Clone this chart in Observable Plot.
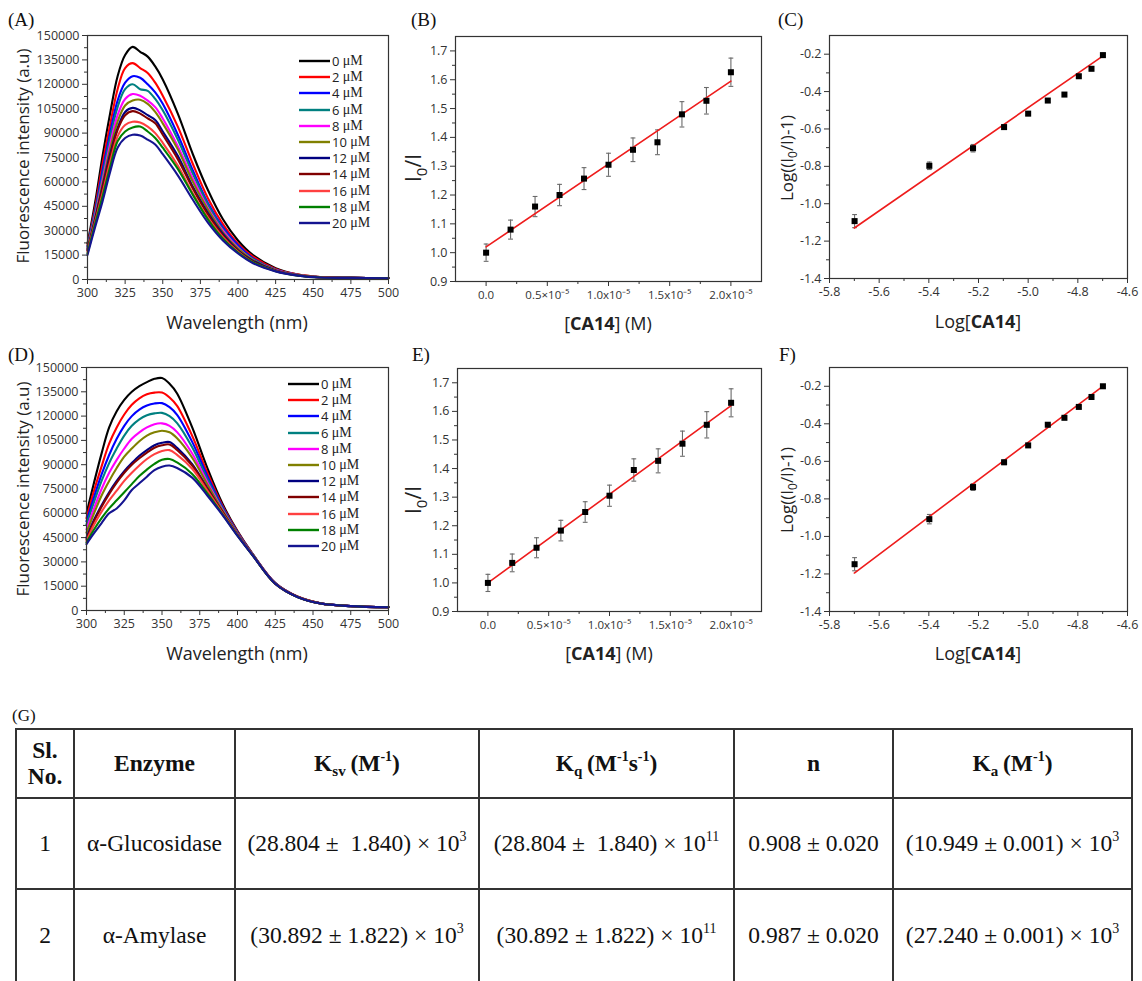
<!DOCTYPE html>
<html><head><meta charset="utf-8">
<script src="https://cdn.jsdelivr.net/npm/d3@7"></script>
<script src="https://cdn.jsdelivr.net/npm/@observablehq/plot@0.6"></script>
<style>
body{margin:0;background:#fff;width:1142px;height:981px;position:relative;overflow:hidden;font-family:"Open Sans",sans-serif;color:#222;}
.panel{position:absolute;}
.plab{position:absolute;font-family:"Liberation Serif",serif;font-size:19px;color:#111;line-height:1;}
.ytitle{position:absolute;transform:translate(-50%,-50%) rotate(-90deg);white-space:nowrap;color:#222;font-size:17px;}
.xtitle{position:absolute;transform:translate(-50%,-50%);white-space:nowrap;color:#222;font-size:18px;}
.legend{position:absolute;}
.legend .row{height:16.2px;display:flex;align-items:center;}
.legend .row span.n{font-size:13px;color:#222;margin-left:2px;}
.legend .row span.u{font-family:"Liberation Serif",serif;font-size:14px;color:#222;}
table.g{position:absolute;left:15px;top:728px;border-collapse:collapse;font-family:"Liberation Serif",serif;font-size:23.5px;color:#111;table-layout:fixed;}
table.g td,table.g th{border:2px solid #333;text-align:center;vertical-align:middle;padding:0;white-space:nowrap;}
table.g th{font-weight:bold;line-height:1.1;}
table.g sup{font-size:14px;vertical-align:10px;line-height:0;}
table.g sub{font-size:15px;vertical-align:-5px;line-height:0;}
</style></head>
<body>
<script>
// ---------- data ----------
const concLabels = ["0","2","4","6","8","10","12","14","16","18","20"];
const lineColors = ["#000000","#ff0000","#0000ff","#008080","#ff00ff","#808000","#000080","#800000","#ff4040","#008000","#141490"];

// Panel A spectra (fluorescence intensity, thousands a.u.)
const wavelengthsA = [300,305,310,315,320,325,330,335,340,345,350,360,370,380,390,400,410,425,440,455,475,500];
const spectraA = [
 [22,47,76,102,125,138,143,140,137,131,123,102,77,55,37,24,15,7,3,1.5,1,0.8],
 [21,44,71,95,117,130,133,130,127,121,113,94,71,50,34,22,14,6.5,3,1.5,1,0.8],
 [20,42,67,90,110,121,125,124,120,115,108,89,67,47,32,21,13,6,2.8,1.4,1,0.8],
 [20,41,64,87,106,117,120,117,116,111,104,86,65,46,31,20,12.5,6,2.8,1.4,1,0.8],
 [19,39,61,83,101,111,114,113,110,106,99,82,62,44,30,19.5,12,5.8,2.7,1.4,1,0.8],
 [19,38,59,80,97,107,110,110.5,108,103,96,80,60,43,29,19,12,5.7,2.7,1.3,1,0.8],
 [18,37,57,77,93,103,105.5,104,101,98,91,76,57,41,28,18,11.5,5.5,2.6,1.3,1,0.8],
 [18,36,56,75,92,101,103.5,102,99,96,89,74,56,40,27,17.5,11,5.4,2.5,1.3,1,0.8],
 [17,35,53,72,88,95,97,96.5,94,90,84,70,53,38,26,17,10.5,5.2,2.5,1.3,1,0.8],
 [16,34,51,69,85,91,93.5,94,91,87,81,68,52,37,25,16.5,10.5,5.1,2.4,1.2,1,0.8],
 [15,32,48,66,81,87,89,88.5,86,83,77,64,49,35,24,16,10,5,2.4,1.2,1,0.8]
];

// Panel D spectra (thousands a.u.)
const wavelengthsD = [300,305,310,315,320,325,330,335,340,345,350,355,360,370,380,390,400,410,425,440,455,475,500];
const spectraD = [
 [60,79,97,113,123,130,135,138.5,141,143,143.5,140,134,113,88,66,49,35,17,8.5,4.5,2.8,2],
 [57,74,89,103,113,121,127,131,133.5,134.5,134.5,131.5,126.3,107.8,85.2,64.8,48.5,34.8,16.9,8.5,4.5,2.8,2],
 [55,70,84,96,106,114,120,124,126.5,127.8,128,125.5,120.8,104.1,83.1,64,48.1,34.7,16.9,8.4,4.4,2.8,2],
 [53,67,80,91,100,108,114,118,120.5,121.7,122,120,115.7,100.7,81.2,63.2,47.8,34.6,16.8,8.4,4.4,2.8,2],
 [50,63,75,85,93,100,106,110,113,115,115.5,114,110.1,96.9,79.2,62.4,47.4,34.5,16.7,8.4,4.4,2.7,2],
 [48,60,71,80,88,95,100,104.5,108,110,111,110,106.3,94.3,77.8,61.8,47.2,34.4,16.7,8.3,4.4,2.7,2],
 [45,56,65,73,80,86,91,95.5,99,102,103.5,104,100.4,90.3,75.6,60.9,46.8,34.3,16.6,8.3,4.4,2.7,2],
 [44,55,64,72,79,85,90,94,97.5,100.5,102,102.5,99.1,89.5,75.1,60.7,46.7,34.2,16.6,8.3,4.3,2.7,2],
 [43,53,61,68,74,80,85,89.5,93.5,96.5,98.5,99,96.1,87.5,74,60.2,46.5,34.2,16.6,8.3,4.3,2.7,2],
 [42,50,57,63,68,73,78,83,87,90.5,93,93.5,91.4,84.3,72.3,59.5,46.2,34.1,16.5,8.2,4.3,2.7,2],
 [41,47.7,54,60,63,68,74.4,78.5,82.6,86.7,88.8,89.5,88,82,71,59,46,34,16.5,8.2,4.3,2.7,2]
];

// Stern-Volmer (B, E)
const quencherM = [0,0.2e-5,0.4e-5,0.6e-5,0.8e-5,1.0e-5,1.2e-5,1.4e-5,1.6e-5,1.8e-5,2.0e-5];
const ratioB = [1.00,1.08,1.16,1.20,1.257,1.305,1.357,1.383,1.48,1.527,1.626];
const errB   = [0.03,0.033,0.035,0.037,0.038,0.04,0.041,0.043,0.044,0.046,0.049];
const ratioE = [1.00,1.07,1.123,1.183,1.248,1.305,1.395,1.427,1.487,1.553,1.63];
const errE   = [0.03,0.031,0.035,0.036,0.036,0.037,0.039,0.042,0.044,0.046,0.049];
const fitSVx = [0, 2.0e-5];
const fitBy = [1.02, 1.595];
const fitEy = [1.0, 1.62];
const svTickValues = [0, 0.5e-5, 1.0e-5, 1.5e-5, 2.0e-5];
const svTickLabels = ["0.0","0.5×10⁻⁵","1.0x10⁻⁵","1.5x10⁻⁵","2.0x10⁻⁵"];

// double log (C, F)
const logConc = [-5.699,-5.398,-5.222,-5.097,-5.0,-4.921,-4.854,-4.796,-4.745,-4.699];
const logC = [-1.093,-0.797,-0.703,-0.59,-0.518,-0.448,-0.416,-0.318,-0.278,-0.205];
const errC = [0.035,0.02,0.02,0.012,0.01,0.01,0.01,0.01,0.01,0.01];
const logF = [-1.148,-0.908,-0.737,-0.605,-0.515,-0.405,-0.368,-0.31,-0.257,-0.2];
const errF = [0.035,0.025,0.018,0.012,0.008,0.008,0.008,0.008,0.008,0.008];
const fitLogX = [-5.7, -4.7];
const fitCy = [-1.13, -0.21];
const fitFy = [-1.195, -0.2];

// table G
const tableHeader = ["Sl.<br>No.","Enzyme","K<sub>sv</sub>&#8201;(M<sup>-1</sup>)","K<sub>q</sub>&#8201;(M<sup>-1</sup>s<sup>-1</sup>)","n","K<sub>a</sub>&#8201;(M<sup>-1</sup>)"];
const tableSl = ["1","2"];
const tableEnzyme = ["α-Glucosidase","α-Amylase"];
const tableKsv = ["(28.804 ±&nbsp; 1.840) × 10<sup>3</sup>","(30.892 ± 1.822) × 10<sup>3</sup>"];
const tableKq = ["(28.804 ±&nbsp; 1.840) × 10<sup>11</sup>","(30.892 ± 1.822) × 10<sup>11</sup>"];
const tableN = ["0.908 ± 0.020","0.987 ± 0.020"];
const tableKa = ["(10.949 ± 0.001) × 10<sup>3</sup>","(27.240 ± 0.001) × 10<sup>3</sup>"];
const colWidths = [58,161,244,255,159,239];

// ---------- helpers ----------
const baseStyle = {fontFamily:"'Open Sans', sans-serif", fontSize:"12.5px", color:"#333", background:"transparent", overflow:"visible"};
const cap = {draw(ctx, size){ const w = Math.sqrt(size/Math.PI); ctx.moveTo(-w,0); ctx.lineTo(w,0); }};
const blank = () => "";

function place(node, left, top){
  const d = document.createElement("div");
  d.className = "panel"; d.style.left = left+"px"; d.style.top = top+"px";
  d.appendChild(node); document.body.appendChild(d);
}
function html(cls, left, top, inner){
  const d = document.createElement("div");
  d.className = cls; d.style.left = left+"px"; d.style.top = top+"px"; d.innerHTML = inner;
  document.body.appendChild(d); return d;
}

function spectrum(curves, wl, m){
  const rows = curves.flatMap((vals,i) => vals.map((v,j) => ({conc: concLabels[i], wl: wl[j], fi: v*1000})));
  return Plot.plot({
    width: 400, height: 340, marginLeft: m.left, marginRight: 400 - m.right, marginTop: m.top, marginBottom: 340 - m.bottom,
    style: baseStyle,
    x: {domain:[300,500]}, y: {domain:[0,150000]},
    color: {domain: concLabels, range: lineColors},
    marks: [
      Plot.axisX({ticks: d3.range(300,501,25), tickSize:5, tickPadding:4, tickFormat: d3.format("d"), label:null, stroke:"#333"}),
      Plot.axisX({ticks: d3.range(312.5,500,25), tickSize:3, tickFormat: blank, label:null, stroke:"#333"}),
      Plot.axisY({ticks: d3.range(0,150001,15000), tickSize:5, tickPadding:3, tickFormat: d3.format("d"), label:null, stroke:"#333"}),
      Plot.axisY({ticks: d3.range(7500,150000,15000), tickSize:3, tickFormat: blank, label:null, stroke:"#333"}),
      Plot.line(rows, {x:"wl", y:"fi", z:"conc", stroke:"conc", strokeWidth:2.1, curve:"catmull-rom"}),
      Plot.frame({stroke:"#333", strokeWidth:1.2})
    ]
  });
}

function errorPlot(xs, ys, es, fitX, fitY, cfg){
  const pts = xs.map((x,i) => ({x, y: ys[i], e: es[i]}));
  const fit = fitX.map((x,i) => ({x, y: fitY[i]}));
  return Plot.plot({
    width: cfg.width, height: 340, marginLeft: cfg.left, marginRight: cfg.width - cfg.right, marginTop: cfg.top, marginBottom: 340 - cfg.bottom,
    style: baseStyle,
    x: {domain: cfg.xdomain}, y: {domain: cfg.ydomain},
    marks: [
      Plot.axisX({ticks: cfg.xticks, tickSize:5, tickPadding:4, tickFormat: cfg.xfmt, label:null, stroke:"#333", fontSize: cfg.xfs}),
      Plot.axisX({ticks: cfg.xminor, tickSize:3, tickFormat: blank, label:null, stroke:"#333"}),
      Plot.axisY({ticks: cfg.yticks, tickSize:5, tickPadding:3, tickFormat: d => d.toFixed(1), label:null, stroke:"#333"}),
      Plot.axisY({ticks: cfg.yminor, tickSize:3, tickFormat: blank, label:null, stroke:"#333"}),
      Plot.ruleX(pts, {x:"x", y1: d => d.y - d.e, y2: d => d.y + d.e, stroke:"#6a6a6a", strokeWidth:1.1}),
      Plot.dot(pts, {x:"x", y: d => d.y + d.e, symbol: cap, r: 2.4, stroke:"#6a6a6a", fill:"none", strokeWidth:1.1}),
      Plot.dot(pts, {x:"x", y: d => d.y - d.e, symbol: cap, r: 2.4, stroke:"#6a6a6a", fill:"none", strokeWidth:1.1}),
      Plot.line(fit, {x:"x", y:"y", stroke:"#ee1c1c", strokeWidth:1.6}),
      Plot.dot(pts, {x:"x", y:"y", symbol:"square", r:3.4, fill:"#000", stroke:"none"}),
      Plot.frame({stroke:"#333", strokeWidth:1.2})
    ]
  });
}

const svFmt = d => svTickLabels[svTickValues.indexOf(d)] ?? "";
function svCfg(top, bottom, left){
  return {width:380, left, right:361, top, bottom,
    xdomain:[-0.25e-5, 2.25e-5], ydomain:[0.9,1.75],
    xticks: svTickValues, xminor:[0.25e-5,0.75e-5,1.25e-5,1.75e-5], xfmt: svFmt, xfs: 11.5,
    yticks: d3.range(0.9,1.701,0.1), yminor: d3.range(0.95,1.7,0.1)};
}
function logCfg(top, bottom, right){
  return {width:362, left:49, right, top, bottom,
    xdomain:[-5.8,-4.6], ydomain:[-1.4,-0.1],
    xticks: d3.range(-5.8,-4.599,0.2), xminor: d3.range(-5.7,-4.65,0.2), xfmt: d => d.toFixed(1), xfs: 12.5,
    yticks: d3.range(-1.4,-0.199,0.2), yminor: d3.range(-1.3,-0.15,0.2)};
}

// ---------- panels ----------
place(spectrum(spectraA, wavelengthsA, {left:87, right:388, top:35, bottom:279}), 0, 0);
place(spectrum(spectraD, wavelengthsD, {left:86, right:388, top:35, bottom:278}), 0, 332);
place(errorPlot(quencherM, ratioB, errB, fitSVx, fitBy, svCfg(36, 281, 55)), 400, 0);
place(errorPlot(quencherM, ratioE, errE, fitSVx, fitEy, svCfg(36, 279, 57)), 400, 332);
place(errorPlot(logConc, logC, errC, fitLogX, fitCy, logCfg(35, 278, 347)), 780, 0);
place(errorPlot(logConc, logF, errF, fitLogX, fitFy, logCfg(35, 279, 347)), 780, 332);

// legends
function legend(left, top){
  const d = document.createElement("div");
  d.className = "legend"; d.style.left = left+"px"; d.style.top = top+"px";
  concLabels.forEach((c,i) => {
    const r = document.createElement("div"); r.className = "row";
    r.innerHTML = `<svg width="31" height="4"><line x1="0" x2="31" y1="2" y2="2" stroke="${lineColors[i]}" stroke-width="2.4"/></svg><span class="n">${c}&nbsp;</span><span class="u">μM</span>`;
    d.appendChild(r);
  });
  document.body.appendChild(d);
}
legend(299, 53);
legend(288, 376);

// panel letters
html("plab", 8, 10, "(A)");
html("plab", 411, 10, "(B)");
html("plab", 778, 10, "(C)");
html("plab", 8, 345, "(D)");
html("plab", 412, 345, "E)");
html("plab", 779, 345, "F)");
html("plab", 12, 707, "(G)").style.fontSize = "17px";

// axis titles
html("ytitle", 22, 156, "Fluorescence intensity (a.u)");
html("ytitle", 22, 489, "Fluorescence intensity (a.u)");
html("xtitle", 237, 322, "Wavelength (nm)");
html("xtitle", 237, 653, "Wavelength (nm)");
const i0 = html("ytitle", 415, 168, "I<sub style='font-size:15px'>0</sub>/I"); i0.style.fontSize = "21px";
const i0e = html("ytitle", 415, 500, "I<sub style='font-size:15px'>0</sub>/I"); i0e.style.fontSize = "21px";
html("xtitle", 608, 323, "[<b>CA14</b>] (M)");
html("xtitle", 609, 653, "[<b>CA14</b>] (M)");
html("ytitle", 788, 158, "Log((I<sub style='font-size:12px'>0</sub>/I)-1)");
html("ytitle", 788, 490, "Log((I<sub style='font-size:12px'>0</sub>/I)-1)");
html("xtitle", 978, 321, "Log[<b>CA14</b>]");
html("xtitle", 978, 653, "Log[<b>CA14</b>]");

// table G
const t = document.createElement("table"); t.className = "g";
const cg = document.createElement("colgroup");
colWidths.forEach(w => { const c = document.createElement("col"); c.style.width = w+"px"; cg.appendChild(c); });
t.appendChild(cg);
const hr = document.createElement("tr"); hr.style.height = "69px";
tableHeader.forEach(h => { const th = document.createElement("th"); th.innerHTML = h; hr.appendChild(th); });
t.appendChild(hr);
tableSl.forEach((s,i) => {
  const tr = document.createElement("tr"); tr.style.height = (i === 0 ? 91 : 93) + "px";
  [s, tableEnzyme[i], tableKsv[i], tableKq[i], tableN[i], tableKa[i]].forEach(v => {
    const td = document.createElement("td"); td.innerHTML = v; tr.appendChild(td);
  });
  t.appendChild(tr);
});
t.style.width = d3.sum(colWidths) + "px";
document.body.appendChild(t);
</script>
</body></html>
